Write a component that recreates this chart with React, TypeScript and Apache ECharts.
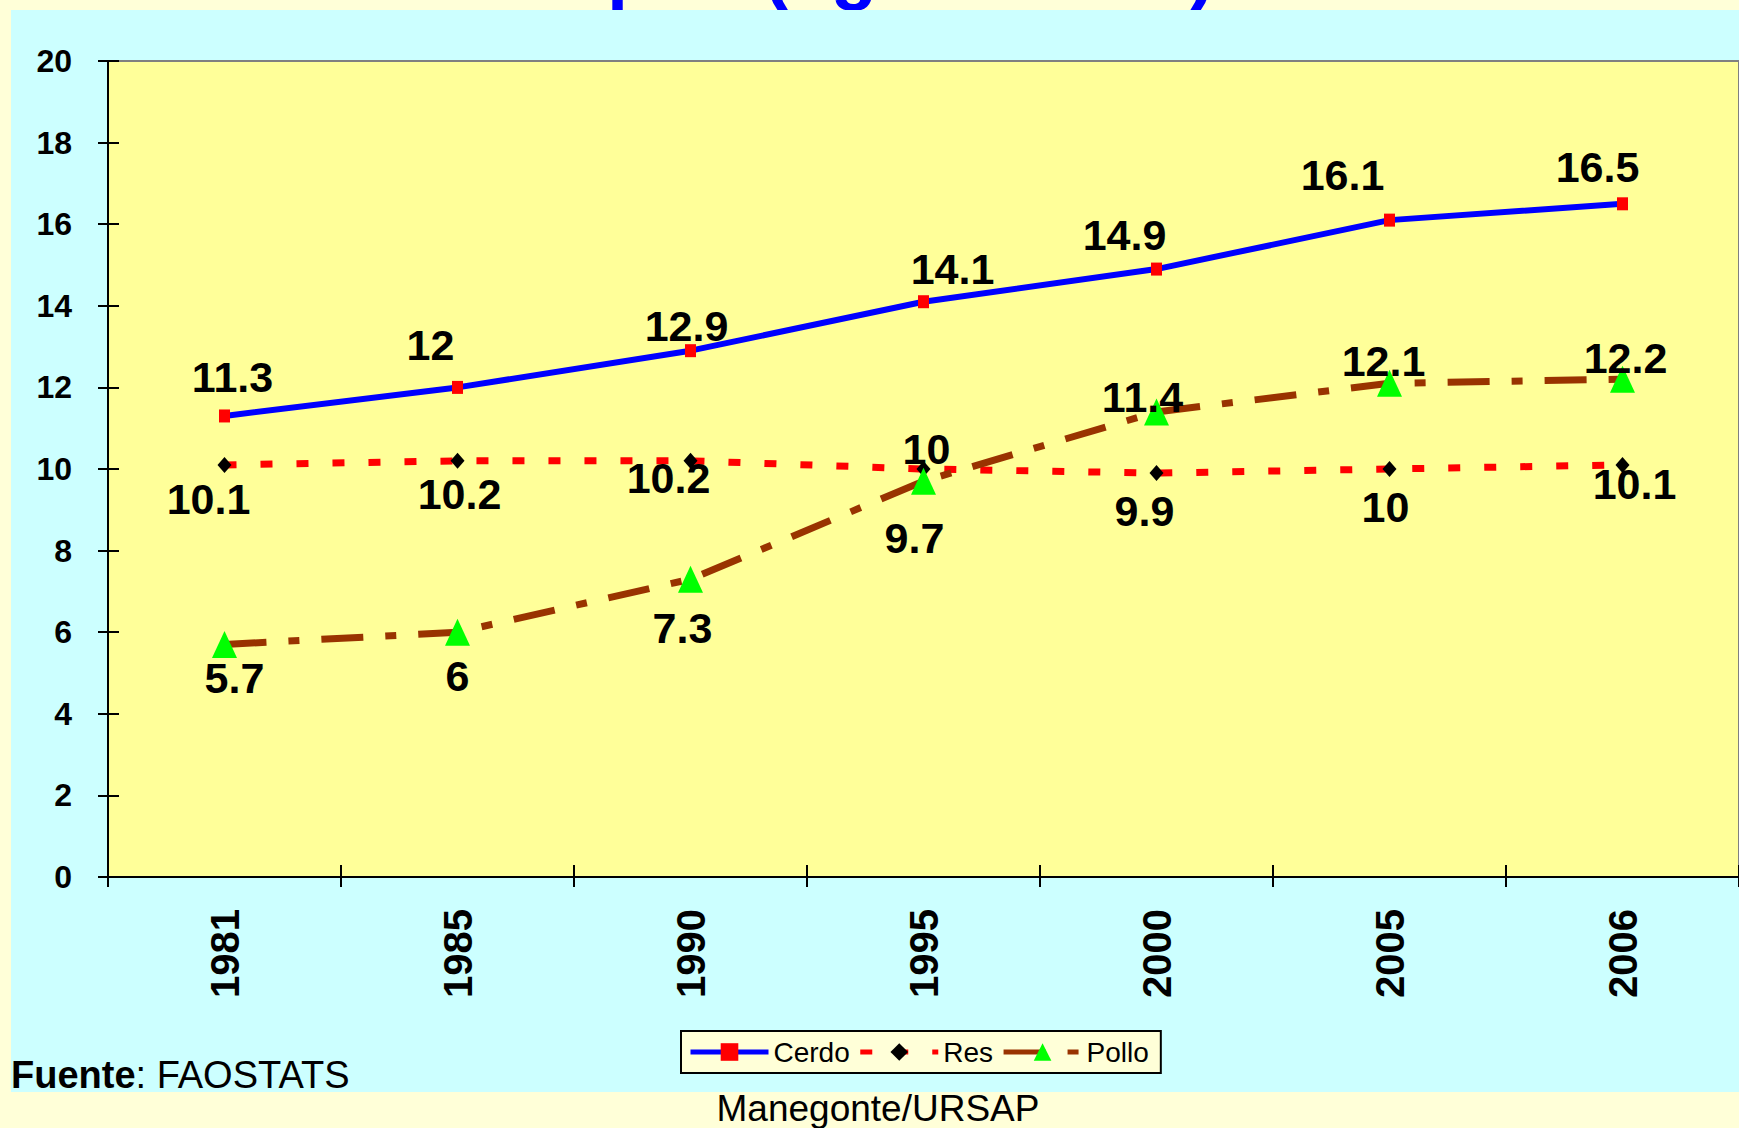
import React, { useEffect, useRef } from "react";
import * as echarts from "echarts";

// ---- data ----
const years = ["1981", "1985", "1990", "1995", "2000", "2005", "2006"];
const cerdo = [11.3, 12, 12.9, 14.1, 14.9, 16.1, 16.5];
const res = [10.1, 10.2, 10.2, 10, 9.9, 10, 10.1];
const pollo = [5.7, 6, 7.3, 9.7, 11.4, 12.1, 12.2];
const yMin = 0;
const yMax = 20;
const yStep = 2;

// ---- label placement (layout only) ----
const cerdoLabelOffset = [[8, -39], [-27, -42], [-4, -25], [29, -33], [-32, -34], [-47, -45], [-25, -37]];
const resLabelOffset = [[-16, 34], [2, 33], [-22, 17], [3, -20], [-12, 38], [-4, 38], [12, 19]];
const polloLabelOffset = [[10, 34], [0, 44], [-8, 49], [-9, 57], [-14, -15], [-6, -22], [3, -21]];

const SANS = "'Liberation Sans', Arial, sans-serif";

const labelStyle = {
  show: true,
  position: "inside",
  fontSize: 43,
  fontWeight: "bold",
  fontFamily: SANS,
  color: "#000000",
};

function withOffsets(values: number[], offsets: number[][]) {
  return values.map((v, i) => ({ value: v, label: { offset: offsets[i] } }));
}

export default function App() {
  const ref = useRef<HTMLDivElement>(null);
  useEffect(() => {
    if (!ref.current) return;
    const chart = echarts.init(ref.current, null, { renderer: "svg" });
    const tickStyle = { color: "#000000", width: 2 };
    chart.setOption({
      animation: false,
      backgroundColor: "#FFFFD8",
      graphic: [
        {
          type: "text",
          z: 0,
          x: 1215,
          y: -32,
          style: {
            text: "Consumo Percápita (kg/hab/año)",
            fontSize: 76,
            fontWeight: "bold",
            fontFamily: SANS,
            fill: "#0000FF",
            align: "right",
            verticalAlign: "middle",
          },
        },
        {
          type: "rect",
          z: 1,
          shape: { x: 11, y: 10, width: 1740, height: 1082 },
          style: { fill: "#CCFFFF" },
        },
        {
          type: "text",
          z: 10,
          x: 11,
          y: 1075,
          style: {
            text: "{b|Fuente}: FAOSTATS",
            fontSize: 38,
            fontFamily: SANS,
            fill: "#000000",
            verticalAlign: "middle",
            rich: { b: { fontWeight: "bold", fontSize: 38, fontFamily: SANS, fill: "#000000" } },
          },
        },
        {
          type: "text",
          z: 10,
          x: 878,
          y: 1108,
          style: {
            text: "Manegonte/URSAP",
            fontSize: 37,
            fontFamily: SANS,
            fill: "#000000",
            align: "center",
            verticalAlign: "middle",
          },
        },
      ],
      grid: {
        show: true,
        z: 5,
        left: 108,
        top: 61,
        right: -2,
        bottom: 251,
        backgroundColor: "#FFFF99",
        borderColor: "#808080",
        borderWidth: 2,
      },
      legend: {
        show: true,
        z: 10,
        left: 681,
        top: 1031,
        orient: "horizontal",
        itemWidth: 78,
        itemHeight: 22,
        itemGap: 8,
        padding: [7, 12, 7, 7],
        backgroundColor: "#FFFFD8",
        borderColor: "#000000",
        borderWidth: 2,
        lineStyle: { width: 5 },
        textStyle: { fontSize: 28, fontFamily: SANS, color: "#000000" },
        data: ["Cerdo", "Res", "Pollo"],
      },
      xAxis: [
        {
          type: "category",
          data: years,
          boundaryGap: true,
          position: "bottom",
          z: 6,
          axisLine: { show: true, lineStyle: { color: "#000000", width: 2 } },
          axisTick: { show: true, inside: false, length: 10, lineStyle: tickStyle },
          axisLabel: {
            rotate: 90,
            margin: 32,
            fontSize: 40,
            fontWeight: "bold",
            fontFamily: SANS,
            color: "#000000",
          },
          splitLine: { show: false },
        },
        {
          type: "category",
          data: years,
          boundaryGap: true,
          position: "bottom",
          z: 6,
          axisLine: { show: false },
          axisTick: { show: true, inside: true, length: 12, lineStyle: tickStyle },
          axisLabel: { show: false },
          splitLine: { show: false },
        },
      ],
      yAxis: [
        {
          type: "value",
          min: yMin,
          max: yMax,
          interval: yStep,
          position: "left",
          z: 6,
          axisLine: { show: true, lineStyle: { color: "#000000", width: 2 } },
          axisTick: { show: true, inside: false, length: 10, lineStyle: tickStyle },
          axisLabel: {
            margin: 36,
            fontSize: 32,
            fontWeight: "bold",
            fontFamily: SANS,
            color: "#000000",
          },
          splitLine: { show: false },
        },
        {
          type: "value",
          min: yMin,
          max: yMax,
          interval: yStep,
          position: "left",
          z: 6,
          axisLine: { show: false },
          axisTick: { show: true, inside: true, length: 11, lineStyle: tickStyle },
          axisLabel: { show: false },
          splitLine: { show: false },
        },
      ],
      series: [
        {
          name: "Cerdo",
          type: "line",
          z: 7,
          data: withOffsets(cerdo, cerdoLabelOffset),
          symbol: "rect",
          symbolSize: [11, 13],
          showAllSymbol: true,
          itemStyle: { color: "#FF0000" },
          lineStyle: { color: "#0000FF", width: 6 },
          label: labelStyle,
        },
        {
          name: "Res",
          type: "line",
          z: 7,
          data: withOffsets(res, resLabelOffset),
          symbol: "diamond",
          symbolSize: [14, 16],
          showAllSymbol: true,
          itemStyle: { color: "#000000" },
          lineStyle: { color: "#FF0000", width: 7, type: [12, 24], cap: "butt" },
          label: labelStyle,
        },
        {
          name: "Pollo",
          type: "line",
          z: 7,
          data: withOffsets(pollo, polloLabelOffset),
          symbol: "triangle",
          symbolSize: [25, 27],
          showAllSymbol: true,
          itemStyle: { color: "#00FF00" },
          lineStyle: { color: "#993300", width: 7, type: [42, 22, 11, 22], cap: "butt" },
          label: labelStyle,
        },
      ],
    });
    return () => chart.dispose();
  }, []);
  return (
    <div
      ref={ref}
      style={{ position: "fixed", left: 0, top: 0, width: 1739, height: 1128 }}
    />
  );
}
